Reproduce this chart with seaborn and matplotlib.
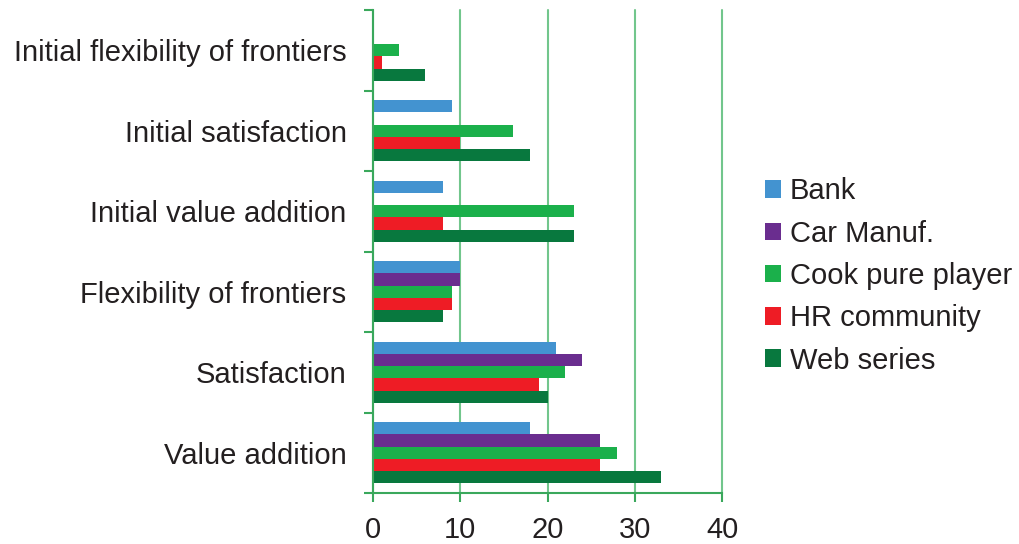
import matplotlib
matplotlib.use("Agg")
import matplotlib.pyplot as plt
import pandas as pd
import seaborn as sns
from matplotlib.ticker import FixedLocator

# Data
categories = [
    "Initial flexibility of frontiers",
    "Initial satisfaction",
    "Initial value addition",
    "Flexibility of frontiers",
    "Satisfaction",
    "Value addition",
]
series = ["Bank", "Car Manuf.", "Cook pure player", "HR community", "Web series"]
bank = [0, 9, 8, 10, 21, 18]
car_manuf = [0, 0, 0, 10, 24, 26]
cook_pure_player = [3, 16, 23, 9, 22, 28]
hr_community = [1, 10, 8, 9, 19, 26]
web_series = [6, 18, 23, 8, 20, 33]
x_ticks = [0, 10, 20, 30, 40]

colors = ["#4393d0", "#6a2d8f", "#1bb04b", "#ee1c25", "#08783e"]
grid_green = "#72c68c"
axis_green = "#3aa85c"

df = pd.DataFrame(
    {
        "Category": categories,
        "Bank": bank,
        "Car Manuf.": car_manuf,
        "Cook pure player": cook_pure_player,
        "HR community": hr_community,
        "Web series": web_series,
    }
)
plot_data = df.melt(id_vars=["Category"], value_vars=series,
                    var_name="Series", value_name="Value")

sns.set_theme(style="white")
plt.rcParams["font.family"] = ["Liberation Sans", "DejaVu Sans"]

fig = plt.figure(figsize=(10.19, 5.44), dpi=100)
ax = fig.add_axes([373 / 1019, 51 / 544, (722 - 373) / 1019, (493 - 10) / 544])

sns.barplot(
    data=plot_data,
    y="Category",
    x="Value",
    hue="Series",
    order=categories,
    hue_order=series,
    palette=colors,
    saturation=1,
    orient="h",
    width=0.76,
    linewidth=0,
    ax=ax,
)

ax.set_xlim(0, 40)
ax.set_ylim(len(categories) - 0.5, -0.5)
ax.set_xticks(x_ticks)
ax.set_xlabel("")
ax.set_ylabel("")

# Vertical grid lines (not clipped so the line at 40 shows fully)
ax.xaxis.grid(True, color=grid_green, linewidth=1.5)
ax.yaxis.grid(False)
ax.set_axisbelow(True)
for gl in ax.get_xgridlines():
    gl.set_clip_on(False)

for side in ["top", "right"]:
    ax.spines[side].set_visible(False)
for side in ["left", "bottom"]:
    ax.spines[side].set_color(axis_green)
    ax.spines[side].set_linewidth(1.5)

# Category labels at centres, tick marks at the boundaries
ax.yaxis.set_minor_locator(FixedLocator([i - 0.5 for i in range(len(categories) + 1)]))
ax.tick_params(axis="y", which="major", length=0, pad=19, labelsize=21, colors="#231f20")
ax.tick_params(axis="y", which="minor", left=True, length=6.5, width=1.5, color=axis_green)
ax.tick_params(axis="x", which="major", bottom=True, length=6.5, width=1.5,
               color=axis_green, labelcolor="#231f20", labelsize=21, pad=10)

leg = ax.legend(
    loc="center left",
    bbox_to_anchor=(765 / 1019, 1 - 276 / 544),
    bbox_transform=fig.transFigure,
    frameon=False,
    fontsize=21,
    handlelength=0.55,
    handleheight=0.55,
    handletextpad=0.3,
    labelspacing=0.49,
    borderpad=0,
    borderaxespad=0,
)
for text in leg.get_texts():
    text.set_color("#231f20")

fig.savefig("out.png", dpi=100)
